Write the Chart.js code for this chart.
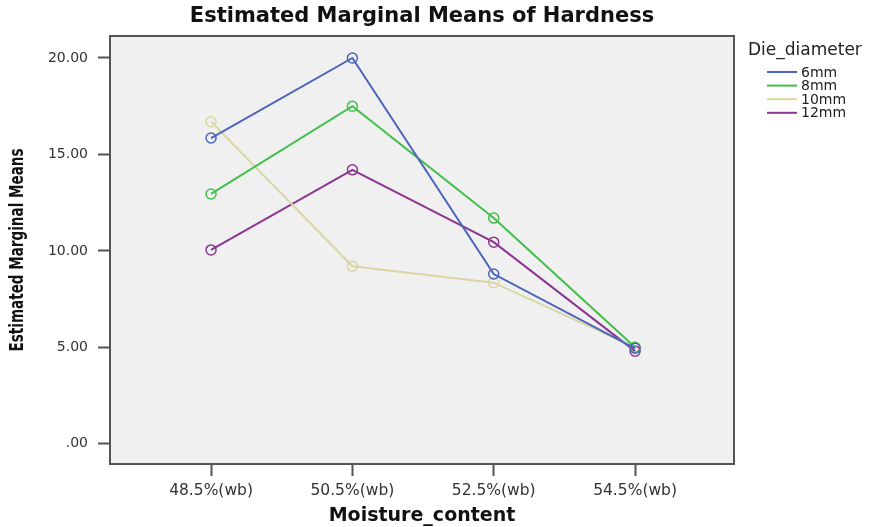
<!DOCTYPE html>
<html lang="en">
<head>
    <meta charset="UTF-8">
    <title>Estimated Marginal Means of Hardness</title>
    <script src="https://cdn.jsdelivr.net/npm/chart.js"></script>
    <style>
        html, body { margin: 0; padding: 0; background: #ffffff; }
        #wrap { width: 872px; height: 527px; position: relative; }
    </style>
</head>
<body>
    <div id="wrap"><canvas id="hardnessChart"></canvas></div>

    <script>
    // data
    const moistureLabels = ['48.5%(wb)', '50.5%(wb)', '52.5%(wb)', '54.5%(wb)'];
    const dieLabels = ['6mm', '8mm', '10mm', '12mm'];
    const hardness6mm = [15.85, 20.0, 8.8, 4.95];
    const hardness8mm = [12.95, 17.5, 11.7, 5.0];
    const hardness10mm = [16.7, 9.2, 8.35, 5.0];
    const hardness12mm = [10.05, 14.2, 10.45, 4.8];
    const yTickValues = [0, 5, 10, 15, 20];
    const yTickLabels = ['.00', '5.00', '10.00', '15.00', '20.00'];

    const seriesColors = ['#4c63bc', '#42bf4b', '#d9d6a3', '#8b3690'];
    const allSeries = [hardness6mm, hardness8mm, hardness10mm, hardness12mm];

    const boxPlugin = {
        id: 'boxPlugin',
        beforeDatasetsDraw(chart) {
            const { ctx, chartArea: a } = chart;
            ctx.save();
            ctx.fillStyle = '#f0f0f0';
            ctx.fillRect(a.left, a.top, a.right - a.left, a.bottom - a.top);
            ctx.strokeStyle = '#555555';
            ctx.lineWidth = 2;
            ctx.strokeRect(a.left, a.top, a.right - a.left, a.bottom - a.top);
            ctx.restore();
        },
        afterDraw(chart) {
            const { ctx, chartArea: a } = chart;
            ctx.save();
            // title
            ctx.fillStyle = '#111111';
            ctx.font = 'bold 21px "DejaVu Sans", sans-serif';
            ctx.textAlign = 'center';
            ctx.textBaseline = 'middle';
            ctx.fillText('Estimated Marginal Means of Hardness', (a.left + a.right) / 2, 17);

            // y title, narrow and tall like the original
            ctx.save();
            ctx.translate(18, (a.top + a.bottom) / 2);
            ctx.rotate(-Math.PI / 2);
            ctx.font = 'bold 19px "Liberation Sans Narrow", "DejaVu Sans Condensed", sans-serif';
            const yTitle = 'Estimated Marginal Means';
            const w = ctx.measureText(yTitle).width;
            ctx.scale(203 / w, 1);
            ctx.fillText(yTitle, 0, 0);
            ctx.restore();

            // legend
            ctx.textAlign = 'left';
            ctx.fillStyle = '#222222';
            ctx.font = '17px "DejaVu Sans", sans-serif';
            ctx.fillText('Die_diameter', a.right + 14, 51);
            ctx.font = '14px "DejaVu Sans", sans-serif';
            chart.data.datasets.forEach((ds, i) => {
                const y = 72 + i * 13.6;
                ctx.strokeStyle = ds.borderColor;
                ctx.lineWidth = 2;
                ctx.beginPath();
                ctx.moveTo(a.right + 33, y);
                ctx.lineTo(a.right + 63, y);
                ctx.stroke();
                ctx.fillStyle = '#222222';
                ctx.fillText(ds.label, a.right + 67, y + 1);
            });
            ctx.restore();
        }
    };

    const ctx = document.getElementById('hardnessChart').getContext('2d');
    const chart = new Chart(ctx, {
        type: 'line',
        data: {
            datasets: allSeries.map((vals, i) => ({
                label: dieLabels[i],
                data: vals.map((v, j) => ({ x: j, y: v })),
                borderColor: seriesColors[i],
                backgroundColor: 'rgba(0,0,0,0)',
                borderWidth: 2,
                pointRadius: 5,
                pointBorderWidth: 1.5,
                pointBackgroundColor: 'rgba(0,0,0,0)',
                pointBorderColor: seriesColors[i],
                tension: 0
            }))
        },
        options: {
            responsive: true,
            maintainAspectRatio: false,
            animation: false,
            layout: { padding: { left: 0, top: 36, right: 138, bottom: 0 } },
            plugins: {
                legend: { display: false },
                title: { display: false },
                tooltip: { enabled: false }
            },
            scales: {
                x: {
                    type: 'linear',
                    min: -0.715,
                    max: 3.7,
                    afterBuildTicks: (scale) => {
                        scale.ticks = moistureLabels.map((l, i) => ({ value: i }));
                    },
                    afterFit: (scale) => { scale.height = 63; },
                    ticks: {
                        callback: (v, i) => moistureLabels[i],
                        color: '#333333',
                        font: { family: '"DejaVu Sans", sans-serif', size: 15.5 },
                        padding: 6,
                        maxRotation: 0
                    },
                    grid: {
                        drawOnChartArea: false,
                        drawTicks: true,
                        tickLength: 12,
                        tickColor: '#555555',
                        tickWidth: 2
                    },
                    border: { display: false },
                    title: {
                        display: true,
                        text: 'Moisture_content',
                        color: '#111111',
                        font: { family: '"DejaVu Sans", sans-serif', size: 19, weight: 'bold' },
                        padding: { top: 0, bottom: 0 }
                    }
                },
                y: {
                    min: -1.05,
                    max: 21.14,
                    afterBuildTicks: (scale) => {
                        scale.ticks = yTickValues.map(v => ({ value: v }));
                    },
                    afterFit: (scale) => { scale.width = 110; },
                    ticks: {
                        callback: (v, i) => yTickLabels[i],
                        color: '#333333',
                        font: { family: '"DejaVu Sans", sans-serif', size: 14 },
                        padding: 10
                    },
                    grid: {
                        drawOnChartArea: false,
                        drawTicks: true,
                        tickLength: 12,
                        tickColor: '#555555',
                        tickWidth: 2
                    },
                    border: { display: false },
                    title: { display: false }
                }
            }
        },
        plugins: [boxPlugin]
    });
    </script>
</body>
</html>
